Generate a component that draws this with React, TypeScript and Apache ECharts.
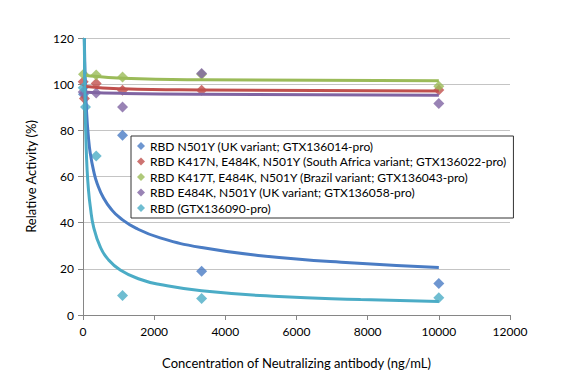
import React, { useEffect, useRef } from "react";
import * as echarts from "echarts";

// Legend labels
const seriesNames = [
  "RBD N501Y (UK variant; GTX136014-pro)",
  "RBD K417N, E484K, N501Y (South Africa variant; GTX136022-pro)",
  "RBD K417T, E484K, N501Y (Brazil variant; GTX136043-pro)",
  "RBD E484K, N501Y (UK variant; GTX136058-pro)",
  "RBD (GTX136090-pro)",
];
const colors = ["#4A7CC4", "#C0504D", "#9BBB59", "#8064A2", "#4BACC6"];

// Measured points [concentration ng/mL, relative activity %]
const pointsUK1: number[][] = [[13.7, 95.6], [1111, 77.9], [3333, 19], [10000, 13.7]];
const pointsSA: number[][] = [[5, 101], [41, 93.8], [370, 100.3], [1111, 97.4], [3333, 97.4], [10000, 97.5]];
const pointsBR: number[][] = [[13.7, 104.3], [370, 104], [1111, 103.1], [3333, 104.3], [10000, 99.1]];
const pointsUK2: number[][] = [[5, 96.6], [370, 96.2], [1111, 90.1], [3333, 104.6], [10000, 91.6]];
const pointsWT: number[][] = [[5, 98.5], [70, 90.1], [370, 68.9], [1111, 8.4], [3333, 7.2], [10000, 7.5]];

// Trend line readings [concentration, value]
const fitUK1: number[][] = [[37, 120], [65, 100.8], [100, 88], [150, 77.5], [205, 70], [300, 62.3], [400, 56.9], [578, 50.7], [800, 45.7], [1046, 42], [1500, 37.5], [2168, 33.4], [3333, 29.2], [5000, 25.7], [7500, 22.6], [10000, 20.6]];
const fitSA: number[][] = [[15, 99.8], [100, 99], [1111, 98], [3333, 97.5], [10000, 97]];
const fitBR: number[][] = [[15, 104.3], [100, 103.8], [1111, 102.6], [3333, 101.9], [10000, 101.5]];
const fitUK2: number[][] = [[15, 96.8], [100, 96.5], [1111, 96], [3333, 95.6], [10000, 95.2]];
const fitWT: number[][] = [[36, 120], [50, 100], [65, 87], [85, 75], [112, 64], [150, 55], [205, 47], [300, 38], [485, 29.5], [700, 24.2], [1046, 19.5], [1600, 15.5], [2168, 13.2], [3333, 10.5], [5500, 8], [7800, 6.7], [10000, 5.8]];

const xTitle = "Concentration of Neutralizing antibody (ng/mL)";
const yTitle = "Relative Activity (%)";

const FONT = "Lato, 'Open Sans', sans-serif";

export default function App() {
  const ref = useRef<HTMLDivElement>(null);
  useEffect(() => {
    document.body.style.margin = "0";
    if (!ref.current) return;
    const chart = echarts.init(ref.current, undefined, { renderer: "svg" });
    const pts = [pointsUK1, pointsSA, pointsBR, pointsUK2, pointsWT];
    const fits = [fitUK1, fitSA, fitBR, fitUK2, fitWT];
    const scatter = pts.map((d, i) => ({
      name: seriesNames[i],
      type: "scatter",
      data: d,
      symbol: "diamond",
      symbolSize: 11,
      itemStyle: { color: colors[i] },
      z: 2,
    }));
    const lines = fits.map((d, i) => ({
      name: "fit" + i,
      type: "line",
      data: d,
      smooth: true,
      showSymbol: false,
      symbol: "none",
      lineStyle: { color: colors[i], width: 3 },
      itemStyle: { color: colors[i] },
      z: 3,
    }));
    chart.setOption({
      animation: false,
      textStyle: { fontFamily: FONT },
      grid: { left: 83, right: 72, top: 38, bottom: 67 },
      legend: {
        data: seriesNames.map((n, i) => ({ name: n, itemStyle: { color: colors[i] } })),
        orient: "vertical",
        left: 131,
        top: 136,
        backgroundColor: "#fff",
        borderColor: "#333",
        borderWidth: 1,
        borderRadius: 0,
        padding: [3, 6, 3, 6],
        itemGap: 1.5,
        itemWidth: 8,
        itemHeight: 8,
        icon: "diamond",
        textStyle: { fontFamily: FONT, fontSize: 12, color: "#000", lineHeight: 14 },
        z: 10,
      },
      xAxis: {
        type: "value",
        min: 0,
        max: 12000,
        interval: 2000,
        name: xTitle,
        nameLocation: "middle",
        nameGap: 41,
        nameTextStyle: { fontFamily: FONT, fontSize: 13, color: "#000" },
        axisLine: { show: true, lineStyle: { color: "#868686" } },
        axisTick: { show: true, length: 5, lineStyle: { color: "#868686" } },
        axisLabel: {
          fontFamily: FONT,
          fontSize: 12,
          color: "#000",
          margin: 10,
          formatter: (v: number) => String(v),
        },
        splitLine: { show: false },
      },
      yAxis: {
        type: "value",
        min: 0,
        max: 120,
        interval: 20,
        name: yTitle,
        nameLocation: "middle",
        nameGap: 46,
        nameTextStyle: { fontFamily: FONT, fontSize: 13, color: "#000" },
        axisLine: { show: true, lineStyle: { color: "#868686" } },
        axisTick: { show: true, length: 5, lineStyle: { color: "#868686" } },
        axisLabel: { fontFamily: FONT, fontSize: 12, color: "#000", margin: 9 },
        splitLine: { show: true, lineStyle: { color: "#C4C4C4", width: 1 } },
      },
      series: [...scatter, ...lines],
    });
    return () => chart.dispose();
  }, []);
  return <div ref={ref} style={{ width: 582, height: 382 }} />;
}
